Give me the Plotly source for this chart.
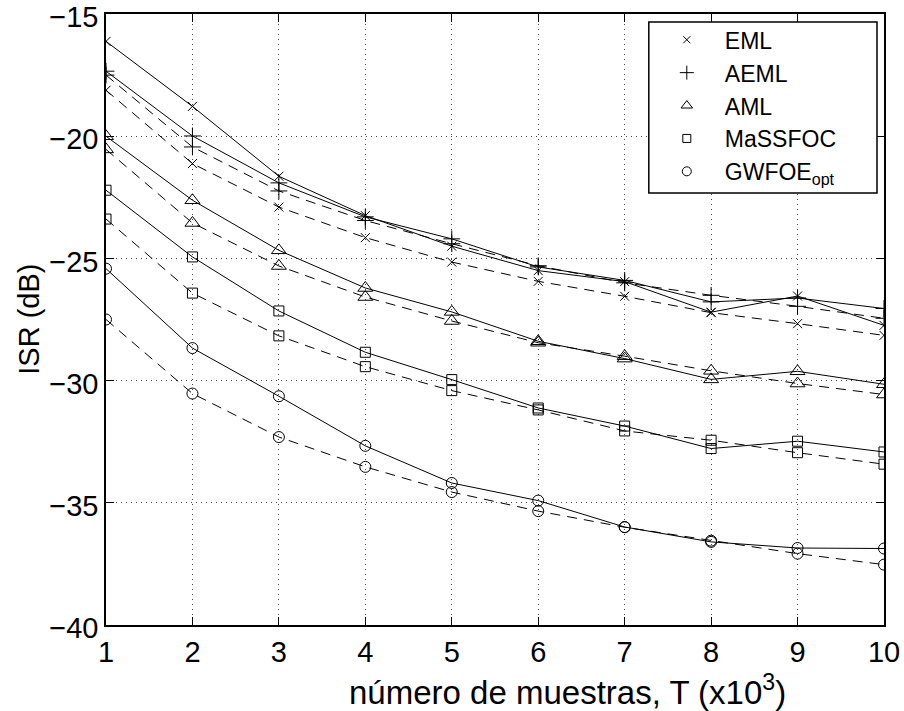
import plotly.graph_objects as go

# Number of samples (x10^3)
T = [1, 2, 3, 4, 5, 6, 7, 8, 9, 10]

# ISR (dB): solid = first configuration, dashed = second configuration
eml_solid = [-16.12, -18.78, -21.64, -23.25, -24.50, -25.50, -25.95, -27.20, -26.54, -27.74]
eml_dash = [-18.12, -21.12, -22.90, -24.15, -25.15, -25.94, -26.55, -27.22, -27.67, -28.15]
aeml_solid = [-17.34, -19.99, -21.91, -23.30, -24.20, -25.35, -25.90, -26.78, -26.62, -27.05]
aeml_dash = [-17.50, -20.44, -22.24, -23.45, -24.40, -25.30, -26.00, -26.51, -26.96, -27.45]
aml_solid = [-20.00, -22.62, -24.67, -26.21, -27.19, -28.39, -29.10, -29.95, -29.62, -30.15]
aml_dash = [-20.54, -23.55, -25.31, -26.58, -27.56, -28.45, -29.00, -29.60, -30.12, -30.57]
massfoc_solid = [-22.21, -24.94, -27.15, -28.84, -29.96, -31.12, -31.86, -32.78, -32.48, -32.92]
massfoc_dash = [-23.39, -26.42, -28.17, -29.43, -30.41, -31.20, -32.06, -32.44, -32.95, -33.42]
gwfoe_solid = [-25.42, -28.67, -30.64, -32.67, -34.19, -34.91, -35.99, -36.60, -36.85, -36.87]
gwfoe_dash = [-27.50, -30.53, -32.31, -33.53, -34.56, -35.34, -36.00, -36.55, -37.08, -37.53]

names = ["EML", "AEML", "AML", "MaSSFOC", "GWFOE<sub>opt</sub>"]
symbols = ["x-thin-open", "cross-thin-open", "triangle-up-open", "square-open", "circle-open"]
sizes = [9, 12, 13, 10, 11]
legend_sizes = [7, 10, 10, 8, 9]
series = [
    (eml_solid, eml_dash),
    (aeml_solid, aeml_dash),
    (aml_solid, aml_dash),
    (massfoc_solid, massfoc_dash),
    (gwfoe_solid, gwfoe_dash),
]

FONT = "Liberation Sans, Arial, Helvetica, sans-serif"

fig = go.Figure()
for (solid, dash), sym, sz in zip(series, symbols, sizes):
    for ys, dstyle in ((solid, "solid"), (dash, "10px,7px")):
        fig.add_trace(go.Scatter(
            x=T, y=ys, mode="lines+markers", showlegend=False,
            line=dict(color="black", width=1, dash=dstyle),
            marker=dict(symbol=sym, size=sz, color="black",
                        line=dict(color="black", width=1)),
        ))

# marker-only legend entries
for name, sym, sz in zip(names, symbols, legend_sizes):
    fig.add_trace(go.Scatter(
        x=[None], y=[None], mode="markers", name=name,
        marker=dict(symbol=sym, size=sz, color="black",
                    line=dict(color="black", width=1)),
    ))

axis_common = dict(
    showline=True, linecolor="black", linewidth=1.5, mirror="ticks",
    ticks="inside", ticklen=8, tickwidth=1, tickcolor="black",
    showgrid=True, gridcolor="#444", gridwidth=1, griddash="1px,4px",
    zeroline=False, ticklabeloverflow="allow", automargin=False,
    tickfont=dict(family=FONT, size=29, color="black"),
)

fig.update_xaxes(range=[1, 10], tickvals=T, **axis_common)
fig.update_yaxes(range=[-40, -15], tickvals=[-40, -35, -30, -25, -20, -15],
                 ticklabelshift=3, **axis_common)

fig.update_layout(
    width=904, height=711,
    margin=dict(l=106, r=20, t=14, b=86, autoexpand=False),
    plot_bgcolor="white", paper_bgcolor="white",
    font=dict(family=FONT, color="black"),
    legend=dict(
        x=0.6977, y=0.993, xanchor="left", yanchor="top",
        bgcolor="rgba(0,0,0,0)", borderwidth=0,
        font=dict(family=FONT, size=23, color="black"),
        itemwidth=66, tracegroupgap=0,
    ),
    # legend frame
    shapes=[dict(type="rect", xref="paper", yref="paper",
                 x0=0.6977, x1=0.991, y0=0.707, y1=0.987,
                 line=dict(color="black", width=1.5), fillcolor="white",
                 layer="above")],
    annotations=[
        dict(text="número de muestras, T (x10<sup>3</sup>)", xref="paper", yref="paper",
             x=0.593, y=-0.106, xanchor="center", yanchor="middle", showarrow=False,
             font=dict(family=FONT, size=33, color="black")),
        dict(text="ISR (dB)", xref="paper", yref="paper", textangle=-90,
             x=-0.1, y=0.5, xanchor="center", yanchor="middle", showarrow=False,
             font=dict(family=FONT, size=29, color="black")),
    ],
)

fig.write_html("out.html")
